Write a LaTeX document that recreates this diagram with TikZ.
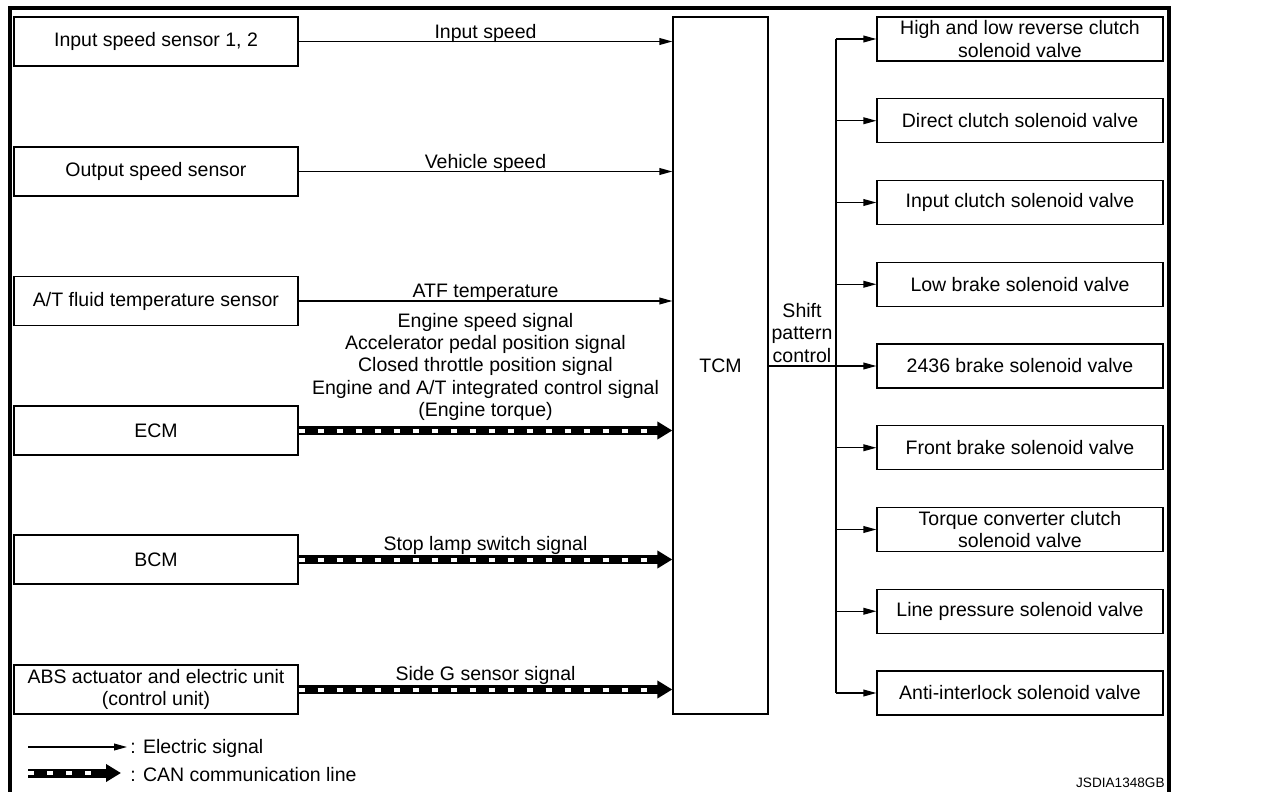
\documentclass[tikz,border=0pt]{standalone}
\usepackage{fontspec}
\setmainfont{Liberation Sans}
\usetikzlibrary{arrows.meta}
\begin{document}
\begin{tikzpicture}[x=0.5pt,y=-0.5pt,
  every node/.style={font=\fontsize{9.75}{11.2}\selectfont, inner sep=0pt},
  lbox/.style={draw, line width=0.65pt, minimum width=142pt, minimum height=24.5pt, align=center},
  rbox/.style={draw, line width=0.65pt, minimum width=143pt, minimum height=22pt, align=center},
  tcmbox/.style={draw, line width=0.65pt, minimum width=47.5pt, minimum height=348.5pt},
  elec/.style={line width=0.65pt, -{Triangle[length=6.5pt,width=3.4pt]}},
  canline/.style={line width=4.5pt, -{Triangle[length=7.5pt,width=8.5pt]},
    postaction={draw=white, -, line width=2pt, dash pattern=on 3pt off 6.5pt, shorten >=9pt}},
  elbl/.style={midway, anchor=base, yshift=1.7pt},
  clbl/.style={midway, anchor=base, yshift=4.6pt},
  frame/.style={line width=2pt}
]
\clip (0,0) rectangle (1280,792);
\draw[frame] (10,800) -- (10,8) -- (1169,8) -- (1169,800);

% left boxes
\node[lbox] (in1) at (156,41.5) {Input speed sensor 1, 2};
\node[lbox] (in2) at (156,171.5) {Output speed sensor};
\node[lbox] (in3) at (156,301) {A/T fluid temperature sensor};
\node[lbox] (in4) at (156,430.5) {ECM};
\node[lbox] (in5) at (156,559.5) {BCM};
\node[lbox] (in6) at (156,689.5) {ABS actuator and electric unit\\(control unit)};

% TCM
\node[tcmbox] (tcm) at (720.5,365.5) {TCM};

% right boxes
\node[rbox] (r1) at (1020,39) {High and low reverse clutch\\solenoid valve};
\node[rbox] (r2) at (1020,120.75) {Direct clutch solenoid valve};
\node[rbox] (r3) at (1020,202.5) {Input clutch solenoid valve};
\node[rbox] (r4) at (1020,284.25) {Low brake solenoid valve};
\node[rbox] (r5) at (1020,366) {2436 brake solenoid valve};
\node[rbox] (r6) at (1020,447.75) {Front brake solenoid valve};
\node[rbox] (r7) at (1020,529.5) {Torque converter clutch\\solenoid valve};
\node[rbox] (r8) at (1020,611.25) {Line pressure solenoid valve};
\node[rbox] (r9) at (1020,693) {Anti-interlock solenoid valve};

% inputs
\draw[elec] (in1.east) -- (in1.east -| tcm.west) node[elbl] {Input speed};
\draw[elec] (in2.east) -- (in2.east -| tcm.west) node[elbl] {Vehicle speed};
\draw[elec] (in3.east) -- (in3.east -| tcm.west) node[elbl] {ATF temperature};
\draw[canline] (in4.east) -- (in4.east -| tcm.west)
  node[midway, anchor=south, yshift=2.6pt, align=center] {Engine speed signal\\Accelerator pedal position signal\\Closed throttle position signal\\Engine and A/T integrated control signal\\(Engine torque)};
\draw[canline] (in5.east) -- (in5.east -| tcm.west) node[clbl] {Stop lamp switch signal};
\draw[canline] (in6.east) -- (in6.east -| tcm.west) node[clbl] {Side G sensor signal};

% outputs
\node[align=center] (spc) at (802,333) {Shift\\pattern\\control};
\coordinate (bus) at (836,0);
\draw[line width=0.65pt] (bus |- r1) -- (bus |- r9);
\draw[elec] (tcm.east |- r5) -- (r5.west);
\foreach \r in {r1,r2,r3,r4,r6,r7,r8,r9} {
  \draw[elec] (bus |- \r) -- (\r.west);
}

% legend
\node[anchor=west] (leg1) at (130,748) {: Electric signal};
\coordinate (leg1s) at (28,747);
\draw[elec] (leg1s) -- ([xshift=-1.5pt]leg1s -| leg1.west);
\node[anchor=west] (leg2) at (130,775) {: CAN communication line};
\coordinate (leg2s) at (28,773);
\draw[canline] (leg2s) -- ([xshift=-4.5pt]leg2s -| leg2.west);

\node[anchor=base east, font=\fontsize{6.8}{8}\selectfont] (code) at (1165,787) {JSDIA1348GB};
\end{tikzpicture}
\end{document}
